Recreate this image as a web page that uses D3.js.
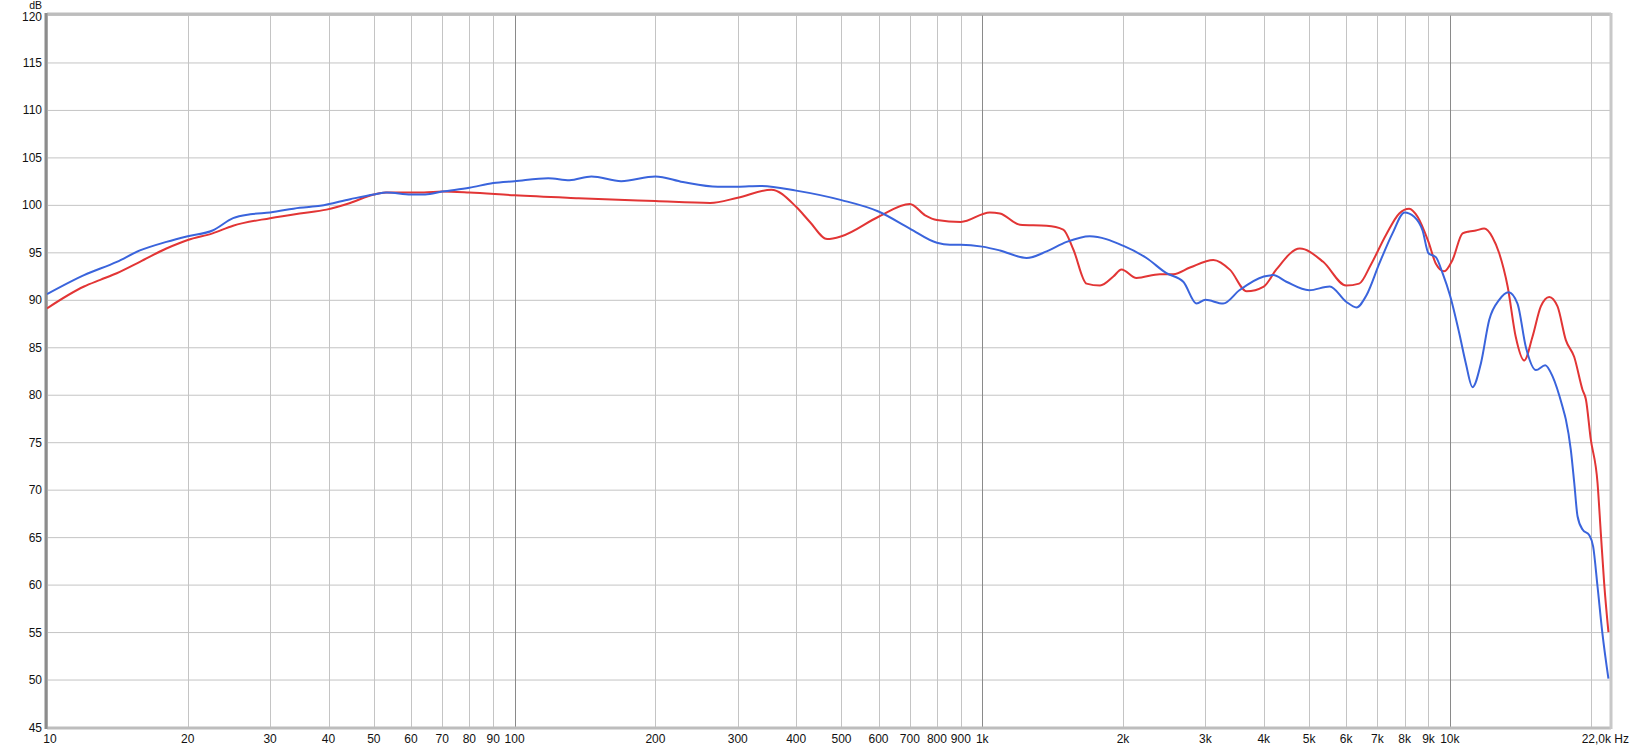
<!DOCTYPE html>
<html><head><meta charset="utf-8">
<script src="https://cdn.jsdelivr.net/npm/d3@7"></script>
<style>
html,body{margin:0;padding:0;background:#fff;}
svg{display:block;font-family:"Liberation Sans",Arial,sans-serif;}
</style></head>
<body><svg id="c" width="1633" height="749"></svg>
<script>
const blueFreq = [10,12,14.1,15.8,18,20,22.6,25,27.2,30,34.7,38.4,44.5,50,53.3,60,64.4,70,80,90,100,118,131,146,169,200,229,272,300,335,400,500,600,700,800,853,900,1000,1091,1244,1373,1515,1698,2000,2245,2477,2691,2873,3000,3274,3547,4000,4188,4470,5000,5535,6000,6314,6636,7063,7539,8000,8388,8742,9000,9334,9647,10000,10470,10819,11180,11650,12140,12750,13350,13950,14540,15280,15990,16590,17420,17700,18140,18450,18750,19220,19870,20250,20690,21190,21830];
const blueDb = [90.6,92.6,94.0,95.2,96.1,96.7,97.3,98.6,99.0,99.2,99.7,99.9,100.6,101.1,101.3,101.1,101.1,101.4,101.8,102.3,102.5,102.8,102.6,103.0,102.5,103.0,102.4,101.9,101.9,102.0,101.5,100.5,99.3,97.5,96.0,95.8,95.8,95.6,95.2,94.4,95.1,96.1,96.7,95.7,94.4,92.8,91.9,89.6,90.0,89.6,91.0,92.45,92.6,91.9,91.0,91.4,89.8,89.2,90.5,93.8,97.0,99.2,98.75,97.3,94.9,94.5,92.8,90.5,86.5,83.3,80.8,83.3,87.9,90.0,90.8,89.6,85.0,82.6,83.1,81.9,78.7,77.4,74.2,70.7,67.2,65.8,65.2,64.0,59.8,54.9,50.1];
const redFreq = [10,12,13,14.1,15.8,18,20,22.6,25,30,34.7,39.6,44.5,50,53,64,70,80,100,137,200,262,300,354,400,428,466,500,600,700,755,800,900,1038,1091,1204,1373,1490,1566,1671,1786,1907,1985,2137,2398,2563,2781,3120,3388,3676,4000,4256,4777,5358,6000,6397,6777,7296,7794,8185,8530,9000,9334,9725,10130,10645,11000,11360,11840,12330,12750,13290,13830,14420,15020,15650,16310,16990,17700,18440,19220,19540,20000,20690,21030,21380,21830];
const redDb = [89.1,91.4,92.1,92.8,94.0,95.4,96.3,97.0,97.8,98.6,99.1,99.5,100.2,101.1,101.3,101.3,101.4,101.3,101.0,100.7,100.4,100.2,100.75,101.6,99.8,98.2,96.4,96.7,98.75,100.1,98.9,98.4,98.2,99.2,99.1,97.9,97.8,97.4,95.3,91.7,91.5,92.45,93.2,92.3,92.7,92.7,93.4,94.2,93.15,90.9,91.4,93.2,95.4,94.0,91.5,91.7,93.7,96.8,99.1,99.6,98.75,96.1,93.8,93.0,94.2,97.0,97.2,97.3,97.5,96.6,94.9,91.4,86.1,83.6,86.1,89.3,90.3,89.3,85.75,84.0,80.5,79.5,75.4,70.7,65.4,60.1,55.0];
const xTickValues = [10,20,30,40,50,60,70,80,90,100,200,300,400,500,600,700,800,900,1000,2000,3000,4000,5000,6000,7000,8000,9000,10000];
const xTickLabels = ["10","20","30","40","50","60","70","80","90","100","200","300","400","500","600","700","800","900","1k","2k","3k","4k","5k","6k","7k","8k","9k","10k"];
const xGridExtra = [20000];
const yTickValues = [45,50,55,60,65,70,75,80,85,90,95,100,105,110,115,120];
const decadeLines = [100,1000,10000];

const L = 47, T = 15, R = 1610, B = 727;
const svg = d3.select("#c");
const x = d3.scaleLog().domain([10,22000]).range([L,R]);
const y = d3.scaleLinear().domain([45,120]).range([B,T]);

const g = svg.append("g");
g.selectAll(".hg").data(yTickValues).join("line")
  .attr("x1",L).attr("x2",R).attr("y1",d=>y(d)+0.5).attr("y2",d=>y(d)+0.5)
  .attr("stroke","#c4c4c4").attr("stroke-width",1);
g.selectAll(".vg").data(xTickValues.concat(xGridExtra)).join("line")
  .attr("x1",d=>Math.round(x(d))+0.5).attr("x2",d=>Math.round(x(d))+0.5).attr("y1",T).attr("y2",B)
  .attr("stroke",d=>decadeLines.includes(d)?"#8a8a8a":"#c4c4c4").attr("stroke-width",1);

g.append("line").attr("x1",L).attr("x2",R+1).attr("y1",T-1).attr("y2",T-1).attr("stroke","#bdbdbd").attr("stroke-width",3);
g.append("line").attr("x1",L).attr("x2",R+1).attr("y1",B+1).attr("y2",B+1).attr("stroke","#bdbdbd").attr("stroke-width",3);
g.append("line").attr("x1",R+1).attr("x2",R+1).attr("y1",T-2).attr("y2",B+2).attr("stroke","#c8c8c8").attr("stroke-width",3);
g.append("line").attr("x1",L-1).attr("x2",L-1).attr("y1",T-2).attr("y2",B+2).attr("stroke","#8c8c8c").attr("stroke-width",3);

svg.append("clipPath").attr("id","clp").append("rect").attr("x",L).attr("y",T).attr("width",R-L).attr("height",B-T);
const line = d3.line().x(d=>x(d[0])).y(d=>y(d[1])).curve(d3.curveMonotoneX);
const redData = redFreq.map((f,i)=>[f,redDb[i]]);
const blueData = blueFreq.map((f,i)=>[f,blueDb[i]]);
const cg = svg.append("g").attr("clip-path","url(#clp)");
cg.append("path").attr("d",line(redData)).attr("fill","none").attr("stroke","#e23535").attr("stroke-width",2).attr("stroke-linejoin","round");
cg.append("path").attr("d",line(blueData)).attr("fill","none").attr("stroke","#3a64dc").attr("stroke-width",2).attr("stroke-linejoin","round");

svg.selectAll(".yl").data(yTickValues).join("text")
  .attr("x",42).attr("y",d=>y(d)+(d===120?5.5:4.5)).attr("text-anchor","end")
  .attr("font-size",12).attr("fill","#111").text(d=>d);
svg.append("text").attr("x",42).attr("y",9).attr("text-anchor","end").attr("font-size",10.5).attr("fill","#111").text("dB");

svg.selectAll(".xl").data(xTickValues).join("text")
  .attr("x",(d,i)=>x(d)+(i===0?3:0)).attr("y",743).attr("text-anchor","middle")
  .attr("font-size",12).attr("fill","#111").text((d,i)=>xTickLabels[i]);
svg.append("text").attr("x",1629).attr("y",743).attr("text-anchor","end").attr("font-size",12).attr("fill","#111").text("22,0k Hz");
</script></body></html>
